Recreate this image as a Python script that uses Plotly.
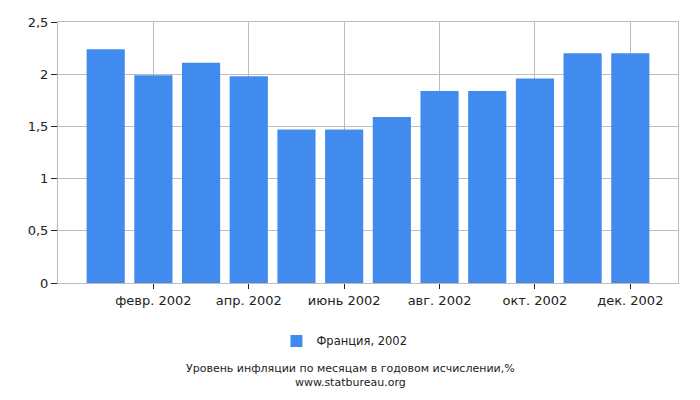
import plotly.graph_objects as go

# monthly inflation, France 2002 (annualised, %)
months = ["янв. 2002", "февр. 2002", "март 2002", "апр. 2002", "май 2002", "июнь 2002",
          "июль 2002", "авг. 2002", "сент. 2002", "окт. 2002", "нояб. 2002", "дек. 2002"]
values = [2.24, 1.99, 2.11, 1.98, 1.47, 1.47, 1.59, 1.84, 1.84, 1.96, 2.20, 2.20]
shown_ticks = months[1::2]
y_ticks = [0, 0.5, 1, 1.5, 2, 2.5]
y_labels = ["0", "0,5", "1", "1,5", "2", "2,5"]

fig = go.Figure()
fig.add_trace(go.Bar(
    x=months, y=values, name="Франция, 2002",
    marker=dict(color="#428bee", line=dict(width=0)),
    width=0.8,
))

grid = "#bdbdbd"
fig.update_layout(
    width=700, height=400,
    margin=dict(l=58, r=22, t=22, b=117),
    paper_bgcolor="white", plot_bgcolor="white",
    font=dict(family="DejaVu Sans", size=13, color="#222"),
    showlegend=True,
    legend=dict(orientation="h", x=0.462, xanchor="center", y=-0.222, yanchor="middle",
                font=dict(size=11.5), itemwidth=30),
    xaxis=dict(type="category", range=[-1, 12], tickvals=shown_ticks,
               showgrid=True, gridcolor=grid, gridwidth=1,
               showline=True, linecolor=grid, mirror=True, automargin=False,
               ticks="outside", ticklen=5, tickcolor="#222"),
    yaxis=dict(range=[0, 2.5], tickvals=y_ticks, ticktext=y_labels,
               showgrid=True, gridcolor=grid, gridwidth=1,
               showline=True, linecolor=grid, mirror=True, zeroline=False, automargin=False,
               ticks="outside", ticklen=6, tickcolor="#222"),
    annotations=[
        dict(text="Уровень инфляции по месяцам в годовом исчислении,%<br>www.statbureau.org",
             x=0.471, xref="paper", y=-0.354, yref="paper", xanchor="center", yanchor="middle",
             showarrow=False, font=dict(size=11, color="#222"), align="center"),
    ],
)

fig.write_html("out.html", config={"displayModeBar": False},
               post_script="document.body.style.margin='0';")
